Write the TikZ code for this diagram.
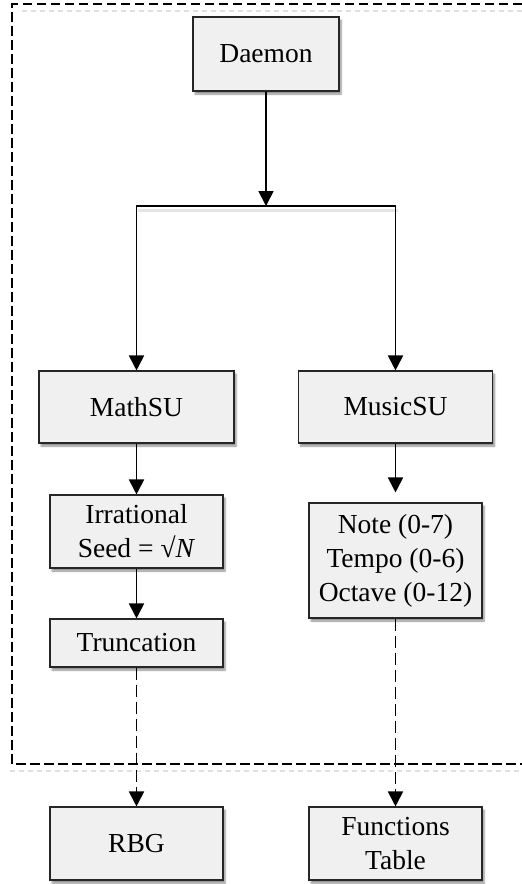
\documentclass[tikz,border=0pt]{standalone}
\usepackage{fontspec}
\setmainfont{Liberation Serif}
\usetikzlibrary{arrows.meta,shadows.blur}
\begin{document}
\begin{tikzpicture}[x=1pt,y=-1pt,
  box/.style={draw=black!85,line width=1.1pt,fill=black!6,align=center,
    inner sep=0pt,font=\fontsize{27.5}{34}\selectfont,
    blur shadow={shadow xshift=2pt,shadow yshift=-3pt,shadow blur steps=6,shadow opacity=45}},
  link/.style={line width=1.8pt,-{Triangle[width=15pt,length=15pt]}},
  dlink/.style={link,dash pattern=on 12pt off 5pt},
  frame/.style={line width=1.2pt,dash pattern=on 9.5pt off 4.5pt}]
\useasboundingbox (0,0) rectangle (522,884);
% system boundary with its soft shadow
\draw[black!12,line width=1.5pt,dash pattern=on 5pt off 4pt] (522,11) -- (18,11);
\draw[black!12,line width=1.5pt,dash pattern=on 5pt off 4pt] (10,771) -- (522,771);
\draw[frame] (522,4) -- (12,4) -- (12,764) -- (522,764);
% faint shadow under the branching line
\draw[black!10,line width=3pt] (138,210) -- (398,210);
% units
\node[box,minimum width=146pt,minimum height=74pt] (daemon) at (266,54) {Daemon};
\node[box,minimum width=195pt,minimum height=72pt] (math) at (136.5,407) {MathSU};
\node[box,minimum width=194pt,minimum height=72pt] (music) at (395.5,407) {MusicSU};
\node[box,minimum width=173pt,minimum height=73pt] (irr) at (136.5,531.5) {Irrational\\Seed = √\textit{N}};
\node[box,minimum width=173pt,minimum height=48pt] (trunc) at (136.5,643) {Truncation};
\node[box,minimum width=173pt,minimum height=115pt] (note) at (395.5,560.5) {Note (0-7)\\Tempo (0-6)\\Octave (0-12)};
\node[box,minimum width=173pt,minimum height=73pt] (rbg) at (136.5,843.5) {RBG};
\node[box,minimum width=173pt,minimum height=73pt] (func) at (395.5,843.5) {Functions\\Table};
% connectors
\coordinate (split) at (266,206);
\draw[link] (daemon) -- (split);
\draw[link] (split) -| (math);
\draw[link] (split) -| (music);
\draw[link] (math) -- (irr);
\draw[link] (irr) -- (trunc);
\draw[link] (music) -- ([yshift=10pt]note.north);
\draw[dlink] (trunc) -- (rbg);
\draw[dlink] (note) -- (func);
\end{tikzpicture}
\end{document}
